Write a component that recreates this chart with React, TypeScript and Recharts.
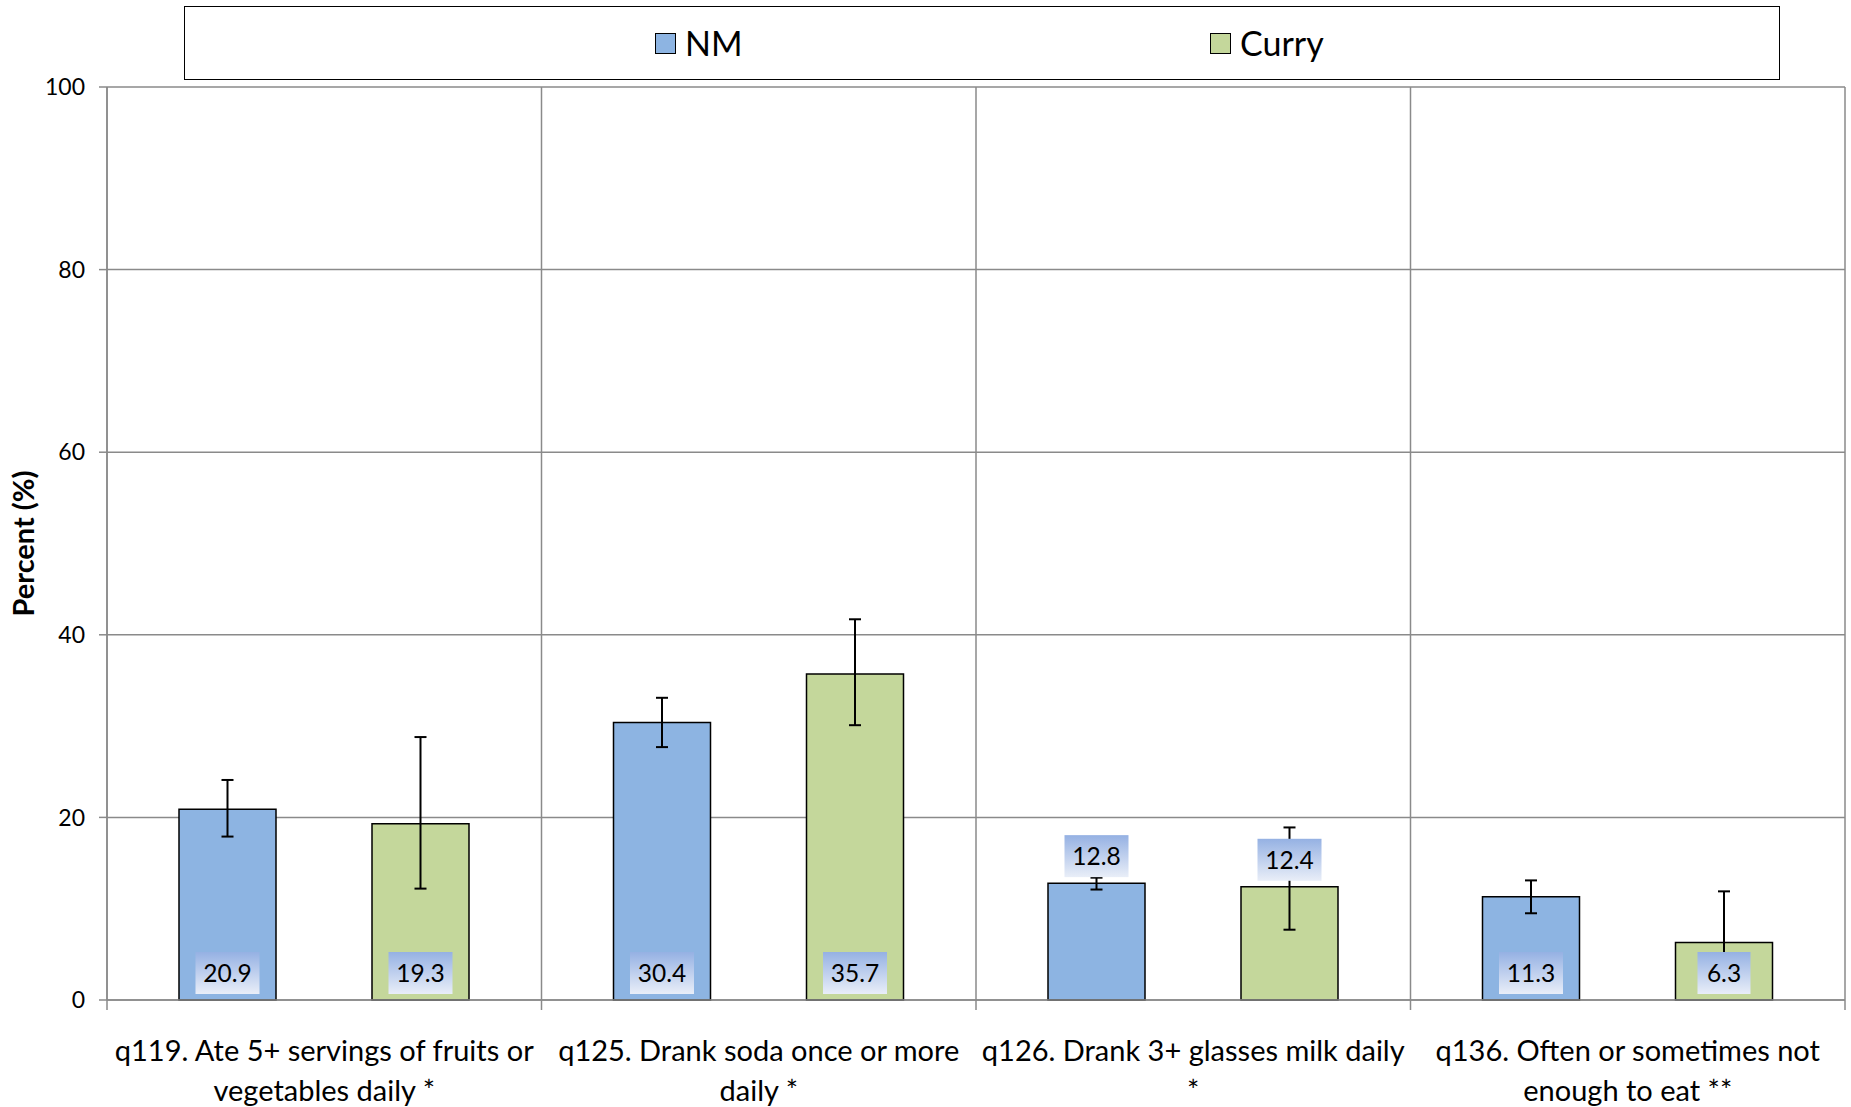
import React from "react";
import { BarChart, Bar, XAxis, YAxis, CartesianGrid, ErrorBar, Legend } from "recharts";

const categories = [
  "q119. Ate 5+ servings of fruits or\nvegetables daily *",
  "q125. Drank soda once or more\ndaily *",
  "q126. Drank 3+ glasses milk daily\n*",
  "q136. Often or sometimes not\nenough to eat **",
];
const nmValues = [20.9, 30.4, 12.8, 11.3];
const nmLower = [17.9, 27.7, 12.1, 9.5];
const nmUpper = [24.1, 33.1, 13.4, 13.1];
const curryValues = [19.3, 35.7, 12.4, 6.3];
const curryLower = [12.2, 30.1, 7.7, 2.0];
const curryUpper = [28.8, 41.7, 18.9, 11.9];
const yTicks = [0, 20, 40, 60, 80, 100];
const seriesNames = ["NM", "Curry"];

// categories whose value labels sit above the bar rather than at its base
const labelAboveCategories = [2];

const W = 1851;
const H = 1107;
const X_AXIS_H = 30;
const MARGIN = { top: 87, right: 6, bottom: 107 - X_AXIS_H, left: 0 };
const Y_AXIS_W = 107;
const PLOT_W = W - MARGIN.left - MARGIN.right - Y_AXIS_W;
const BAND = PLOT_W / categories.length;
const FONT = "Lato, 'Open Sans', sans-serif";
const GRID = "#8a8a8a";
const NM_FILL = "#8db4e2";
const CURRY_FILL = "#c4d79b";

const data = categories.map((c, i) => ({
  category: c,
  nm: nmValues[i],
  nmErr: [nmValues[i] - nmLower[i], nmUpper[i] - nmValues[i]],
  curry: curryValues[i],
  curryErr: [curryValues[i] - curryLower[i], curryUpper[i] - curryValues[i]],
}));

const makeLabel = (key: string) => (props: any) => {
  const { x, y, width, height, value, index } = props;
  const text = Number(value).toFixed(1);
  const digits = text.replace(".", "").length;
  const w = digits * 11 + 5 + 26;
  const h = 42;
  const cx = Number(x) + Number(width) / 2;
  const above = labelAboveCategories.includes(index);
  const bottom = above ? Number(y) - 6 : Number(y) + Number(height) - 6;
  const id = `lg-${key}-${index}`;
  return (
    <g>
      <defs>
        <linearGradient id={id} x1="0" y1="0" x2="0" y2="1">
          <stop offset="0%" stopColor="#95b1e3" />
          <stop offset="100%" stopColor="#e9eef8" />
        </linearGradient>
      </defs>
      <rect x={cx - w / 2} y={bottom - h} width={w} height={h} fill={`url(#${id})`} />
      <text
        x={cx}
        y={bottom - h / 2 + 9}
        textAnchor="middle"
        fontFamily={FONT}
        fontSize={24.5}
        fill="#000"
      >
        {text}
      </text>
    </g>
  );
};

const XTick = (props: any) => {
  const { x, y, payload, index } = props;
  const lines = String(payload.value).split("\n");
  const left = x - BAND / 2;
  return (
    <g>
      <line x1={left} y1={y} x2={left} y2={y + 10} stroke={GRID} strokeWidth={1.5} />
      {index === categories.length - 1 && (
        <line x1={x + BAND / 2} y1={y} x2={x + BAND / 2} y2={y + 10} stroke={GRID} strokeWidth={1.5} />
      )}
      <text x={x} y={y + 61} textAnchor="middle" fontFamily={FONT} fontSize={29} fill="#000">
        {lines.map((l, i) => (
          <tspan key={i} x={x} dy={i === 0 ? 0 : 40}>
            {l}
          </tspan>
        ))}
      </text>
    </g>
  );
};

const LegendBox = () => (
  <div
    style={{
      width: "100%",
      height: "100%",
      border: "1.5px solid #000",
      boxSizing: "border-box",
      position: "relative",
      fontFamily: FONT,
      fontSize: 34,
      background: "#fff",
    }}
  >
    {seriesNames.map((n, i) => (
      <div
        key={n}
        style={{
          position: "absolute",
          left: i === 0 ? 470 : 1025,
          top: 19,
          display: "flex",
          alignItems: "center",
          lineHeight: "34px",
        }}
      >
        <span
          style={{
            display: "inline-block",
            width: 19,
            height: 19,
            background: i === 0 ? NM_FILL : CURRY_FILL,
            border: "1.5px solid #000",
            marginRight: 9,
          }}
        />
        <span>{n}</span>
      </div>
    ))}
  </div>
);

export default function App() {
  return (
    <div style={{ position: "absolute", left: 0, top: 0, width: W, height: H, background: "#fff" }}>
      <BarChart
        width={W}
        height={H}
        data={data}
        margin={MARGIN}
        barSize={97}
        barGap={96}
      >
        <CartesianGrid
          stroke={GRID}
          strokeWidth={1.5}
          verticalCoordinatesGenerator={({ offset }: any) =>
            categories.map((_, i) => offset.left + (i * offset.width) / categories.length).concat([offset.left + offset.width])
          }
        />
        <XAxis
          dataKey="category"
          height={X_AXIS_H}
          tickLine={false}
          tickSize={0}
          tickMargin={0}
          axisLine={{ stroke: GRID, strokeWidth: 1.5 }}
          tick={<XTick />}
          interval={0}
        />
        <YAxis
          width={Y_AXIS_W}
          domain={[0, 100]}
          ticks={yTicks}
          tickSize={8}
          tickMargin={14}
          axisLine={{ stroke: GRID, strokeWidth: 1.5 }}
          tickLine={{ stroke: GRID, strokeWidth: 1.5 }}
          tick={{ fontFamily: FONT, fontSize: 23, fill: "#000" }}
          label={{
            content: (p: any) => {
              const vb = p.viewBox || {};
              const cy = (vb.y ?? MARGIN.top) + (vb.height ?? 913) / 2;
              return (
                <text
                  x={27}
                  y={cy}
                  transform={`rotate(-90, 27, ${cy})`}
                  textAnchor="middle"
                  dominantBaseline="middle"
                  fontFamily={FONT}
                  fontWeight="bold"
                  fontSize={29}
                  fill="#000"
                >
                  Percent (%)
                </text>
              );
            },
          }}
        />
        <Legend
          verticalAlign="middle"
          align="center"
          layout="horizontal"
          wrapperStyle={{ position: "absolute", top: 6, left: 184, width: 1596, height: 74 }}
          content={() => <LegendBox />}
        />
        <Bar
          dataKey="nm"
          name="NM"
          fill={NM_FILL}
          stroke="#000"
          strokeWidth={1.5}
          isAnimationActive={false}
          label={{ content: makeLabel("nm") }}
        >
          <ErrorBar dataKey="nmErr" width={6} stroke="#000" strokeWidth={2} direction="y" />
        </Bar>
        <Bar
          dataKey="curry"
          name="Curry"
          fill={CURRY_FILL}
          stroke="#000"
          strokeWidth={1.5}
          isAnimationActive={false}
          label={{ content: makeLabel("curry") }}
        >
          <ErrorBar dataKey="curryErr" width={6} stroke="#000" strokeWidth={2} direction="y" />
        </Bar>
      </BarChart>
    </div>
  );
}
